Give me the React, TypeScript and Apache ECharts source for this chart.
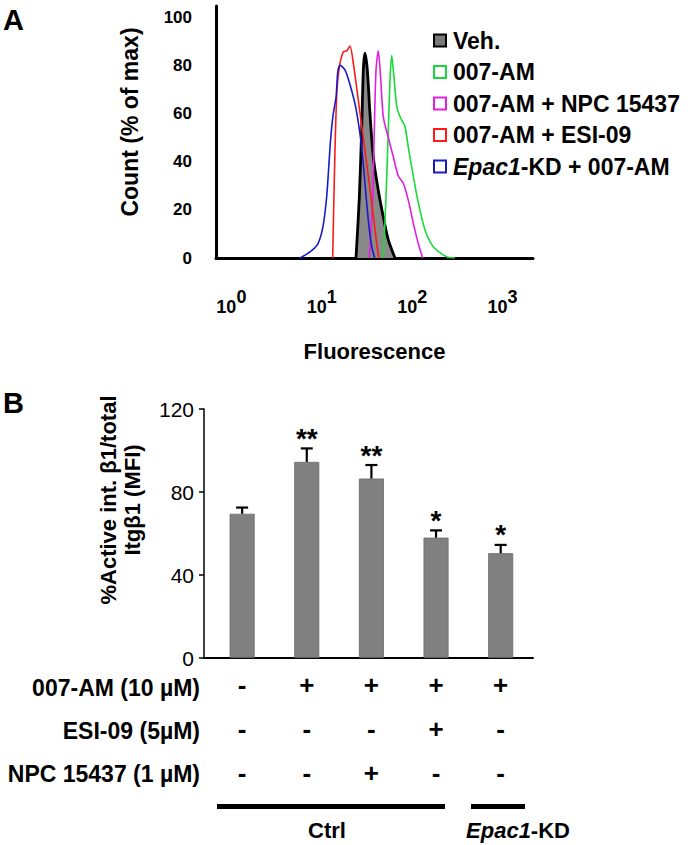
import React, { useEffect, useRef } from "react";
import * as echarts from "echarts";

const FONT = '"Liberation Sans", Arial, Helvetica, sans-serif';

// ---------- Panel A: histograms (Fluorescence vs Count % of max) ----------
const seriesNames = ["Veh.", "007-AM", "007-AM + NPC 15437", "007-AM + ESI-09", "Epac1-KD + 007-AM"];
const seriesColors = ["#000000", "#1ad93a", "#e21ee2", "#ff1a1a", "#1a1ac8"];

const vehX = [23.9, 26.0, 27.6, 28.8, 30.0, 31.9, 34.1, 37.1, 42.2, 47.9, 54.4, 64.5];
const vehY = [0, 25, 53, 78, 85, 78, 60, 42, 28, 17, 7.5, 0];

const amX = [47.9, 51.3, 54.4, 56.8, 59.3, 62.9, 67.4, 73.3, 83.2, 90.5, 102.8, 116.7, 138.6, 171.0, 240.8, 297.2];
const amY = [0, 25, 53, 74, 84, 75, 63, 58.6, 54.5, 46, 34, 23, 11.6, 4.7, 0.5, 0];

const npcX = [33.5, 36.6, 38.1, 39.8, 42.2, 44.9, 47.9, 54.4, 61.8, 70.2, 79.7, 90.5, 102.8, 116.7, 130.6];
const npcY = [0, 25, 53, 78, 86, 74, 58.6, 50, 42, 34, 31, 24, 14.5, 6, 0];

const esiX = [13.2, 13.8, 14.6, 15.6, 17.3, 18.9, 20.5, 22.3, 26.5, 31.4, 35.7, 40.5, 42.9];
const esiY = [0, 35, 67, 79, 85.6, 86, 88, 81, 60, 39, 23, 6, 0];

const kdX = [5.74, 7.4, 9.08, 10.3, 11.3, 12.0, 12.5, 13.3, 14.4, 15.0, 15.9, 18.1, 20.5, 23.9, 27.8, 31.0, 33.5, 36.0, 38.5];
const kdY = [0, 2.5, 6, 13, 25, 39, 49, 59, 67, 77, 80, 78, 72, 62, 45, 25, 12, 4, 0];

const histX = [vehX, amX, npcX, esiX, kdX];
const histY = [vehY, amY, npcY, esiY, kdY];

// ---------- Panel B: bars ----------
const mfi = [69.5, 94.5, 86.5, 58, 50.5];
const mfiErr = [3, 6.5, 6.5, 3.5, 4];
const stars = ["", "**", "**", "*", "*"];
const row007 = ["-", "+", "+", "+", "+"];
const rowESI = ["-", "-", "-", "+", "-"];
const rowNPC = ["-", "-", "+", "-", "-"];
const rowLabels = ["007-AM (10 µM)", "ESI-09 (5µM)", "NPC 15437 (1 µM)"];

export default function App() {
  const ref = useRef<HTMLDivElement>(null);

  useEffect(() => {
    if (!ref.current) return;
    const chart = echarts.init(ref.current, null, { renderer: "svg" });

    const lineSeries = seriesNames.map((name, k) => {
      const isVeh = k === 0;
      return {
        type: "line",
        name,
        xAxisIndex: 0,
        yAxisIndex: 0,
        data: histX[k].map((x, i) => [x, histY[k][i]]),
        symbol: "none",
        showSymbol: false,
        smooth: 0.25,
        lineStyle: { color: seriesColors[k], width: isVeh ? 2.8 : 1.6 },
        itemStyle: { color: isVeh ? "#888888" : seriesColors[k] },
        areaStyle: isVeh ? { color: "#8a8a8a", opacity: 1 } : undefined,
        z: 2,
      };
    });

    const legendData = seriesNames.map((name, k) => ({
      name,
      itemStyle:
        k === 0
          ? { color: "#7a7a7a", borderColor: "#000", borderWidth: 2 }
          : { color: "#ffffff", borderColor: seriesColors[k], borderWidth: 2 },
    }));

    const option: any = {
      animation: false,
      backgroundColor: "#ffffff",
      textStyle: { fontFamily: FONT },
      grid: [
        { left: 216, right: 157, top: 6, bottom: 587 },
        { left: 204, right: 157, top: 409, bottom: 187 },
      ],
      legend: {
        orient: "vertical",
        left: 433,
        top: 29,
        padding: 0,
        icon: "rect",
        itemWidth: 12,
        itemHeight: 12,
        itemGap: 8.5,
        selectedMode: false,
        data: legendData,
        formatter: (name: string) => (name.startsWith("Epac1") ? `{i|Epac1}${name.slice(5)}` : name),
        textStyle: {
          fontSize: 23,
          fontWeight: "bold",
          fontFamily: FONT,
          color: "#000",
          lineHeight: 23,
          padding: [0, 0, 0, 2],
          rich: { i: { fontStyle: "italic", fontWeight: "bold", fontSize: 23, fontFamily: FONT, color: "#000" } },
        },
      },
      xAxis: [
        {
          type: "log",
          logBase: 10,
          gridIndex: 0,
          min: 0.676,
          max: 2168,
          axisLine: { show: true, onZero: false, lineStyle: { color: "#000", width: 3 } },
          axisTick: { show: false },
          minorTick: { show: false },
          splitLine: { show: false },
          axisLabel: {
            margin: 30,
            showMinLabel: false,
            showMaxLabel: false,
            formatter: (v: number) => `{b|10}{s|${Math.round(Math.log10(v))}}`,
            rich: {
              b: { fontSize: 18, fontWeight: "bold", fontFamily: FONT, color: "#000", verticalAlign: "bottom" },
              s: { fontSize: 18, fontWeight: "bold", fontFamily: FONT, color: "#000", verticalAlign: "top", padding: [0, 0, 10, 0] },
            },
          },
          name: "Fluorescence",
          nameLocation: "middle",
          nameGap: 82,
          nameTextStyle: { fontSize: 22, fontWeight: "bold", fontFamily: FONT, color: "#000" },
        },
        {
          type: "value",
          gridIndex: 1,
          min: -0.59,
          max: 4.5,
          axisLine: { show: true, onZero: false, lineStyle: { color: "#000", width: 2 } },
          axisTick: { show: false },
          splitLine: { show: false },
          axisLabel: {
            customValues: [0, 1, 2, 3, 4],
            margin: 5,
            fontSize: 26,
            fontWeight: "bold",
            fontFamily: FONT,
            color: "#000",
            lineHeight: 44,
            formatter: (v: number) => {
              const i = Math.round(v);
              return `${row007[i]}\n${rowESI[i]}\n${rowNPC[i]}`;
            },
          },
        },
      ],
      yAxis: [
        {
          type: "value",
          gridIndex: 0,
          min: 0,
          max: 104.6,
          interval: 20,
          axisLine: { show: true, onZero: false, lineStyle: { color: "#000", width: 3 } },
          axisTick: { show: false },
          splitLine: { show: false },
          axisLabel: { fontSize: 17, fontWeight: "bold", fontFamily: FONT, color: "#000", margin: 24, showMaxLabel: false },
          name: "Count (% of max)",
          nameLocation: "middle",
          nameGap: 75,
          nameTextStyle: { fontSize: 23, fontWeight: "bold", fontFamily: FONT, color: "#000", padding: [0, 0, 0, 20] },
        },
        {
          type: "value",
          gridIndex: 1,
          min: 0,
          max: 120,
          interval: 40,
          axisLine: { show: true, onZero: false, lineStyle: { color: "#000", width: 1.5 } },
          axisTick: { show: true, length: 5, lineStyle: { color: "#000", width: 1.5 } },
          splitLine: { show: false },
          axisLabel: { fontSize: 21, fontFamily: FONT, color: "#000", margin: 10 },
        },
      ],
      series: [
        ...lineSeries,
        {
          type: "bar",
          name: "MFI",
          xAxisIndex: 1,
          yAxisIndex: 1,
          barWidth: 25,
          data: mfi.map((v, i) => [i, v]),
          itemStyle: { color: "#808080", borderColor: "#6a6a6a", borderWidth: 0.8 },
          z: 2,
        },
        {
          type: "custom",
          name: "err",
          xAxisIndex: 1,
          yAxisIndex: 1,
          data: mfi.map((v, i) => [i, v, mfiErr[i]]),
          z: 3,
          clip: false,
          renderItem: (params: any, api: any) => {
            const x = api.value(0);
            const y = api.value(1);
            const e = api.value(2);
            const base = api.coord([x, y]);
            const top = api.coord([x, y + e]);
            const hw = 6;
            const st = { stroke: "#000", lineWidth: 2.2, fill: null };
            const children: any[] = [
              { type: "line", shape: { x1: base[0], y1: base[1], x2: top[0], y2: top[1] }, style: st },
              { type: "line", shape: { x1: top[0] - hw, y1: top[1], x2: top[0] + hw, y2: top[1] }, style: st },
            ];
            const s = stars[params.dataIndex];
            if (s) {
              children.push({
                type: "text",
                x: top[0],
                y: top[1] + 4,
                style: {
                  text: s,
                  fill: "#000",
                  fontSize: 28,
                  fontWeight: "bold",
                  fontFamily: FONT,
                  align: "center",
                  verticalAlign: "bottom",
                },
              });
            }
            return { type: "group", children };
          },
        },
      ],
      graphic: [
        { type: "text", left: 3, top: 5, style: { text: "A", fontSize: 29, fontWeight: "bold", fontFamily: FONT, fill: "#000" } },
        { type: "text", left: 3, top: 388, style: { text: "B", fontSize: 29, fontWeight: "bold", fontFamily: FONT, fill: "#000" } },
        {
          type: "text",
          x: 120,
          y: 500,
          rotation: Math.PI / 2,
          style: {
            text: "%Active int. β1/total\nItgβ1 (MFI)",
            fontSize: 22,
            fontWeight: "bold",
            fontFamily: FONT,
            fill: "#000",
            align: "center",
            verticalAlign: "middle",
            lineHeight: 24,
          },
        },
        ...rowLabels.map((t, i) => ({
          type: "text",
          x: 200,
          y: [688, 731, 774][i],
          style: { text: t, fontSize: 23, fontWeight: "bold", fontFamily: FONT, fill: "#000", align: "right", verticalAlign: "middle" },
        })),
        { type: "rect", shape: { x: 217, y: 804, width: 228, height: 5 }, style: { fill: "#000" } },
        { type: "rect", shape: { x: 471, y: 804, width: 54, height: 5 }, style: { fill: "#000" } },
        {
          type: "text",
          x: 327,
          y: 830,
          style: { text: "Ctrl", fontSize: 22, fontWeight: "bold", fontFamily: FONT, fill: "#000", align: "center", verticalAlign: "middle" },
        },
        {
          type: "text",
          x: 518,
          y: 830,
          style: {
            text: "{i|Epac1}-KD",
            fontSize: 22,
            fontWeight: "bold",
            fontFamily: FONT,
            fill: "#000",
            align: "center",
            verticalAlign: "middle",
            rich: { i: { fontStyle: "italic", fontSize: 22, fontWeight: "bold", fontFamily: FONT, fill: "#000" } },
          },
        },
      ],
    };

    chart.setOption(option);
    return () => chart.dispose();
  }, []);

  return <div ref={ref} style={{ position: "fixed", left: 0, top: 0, width: 690, height: 845, background: "#fff" }} />;
}
